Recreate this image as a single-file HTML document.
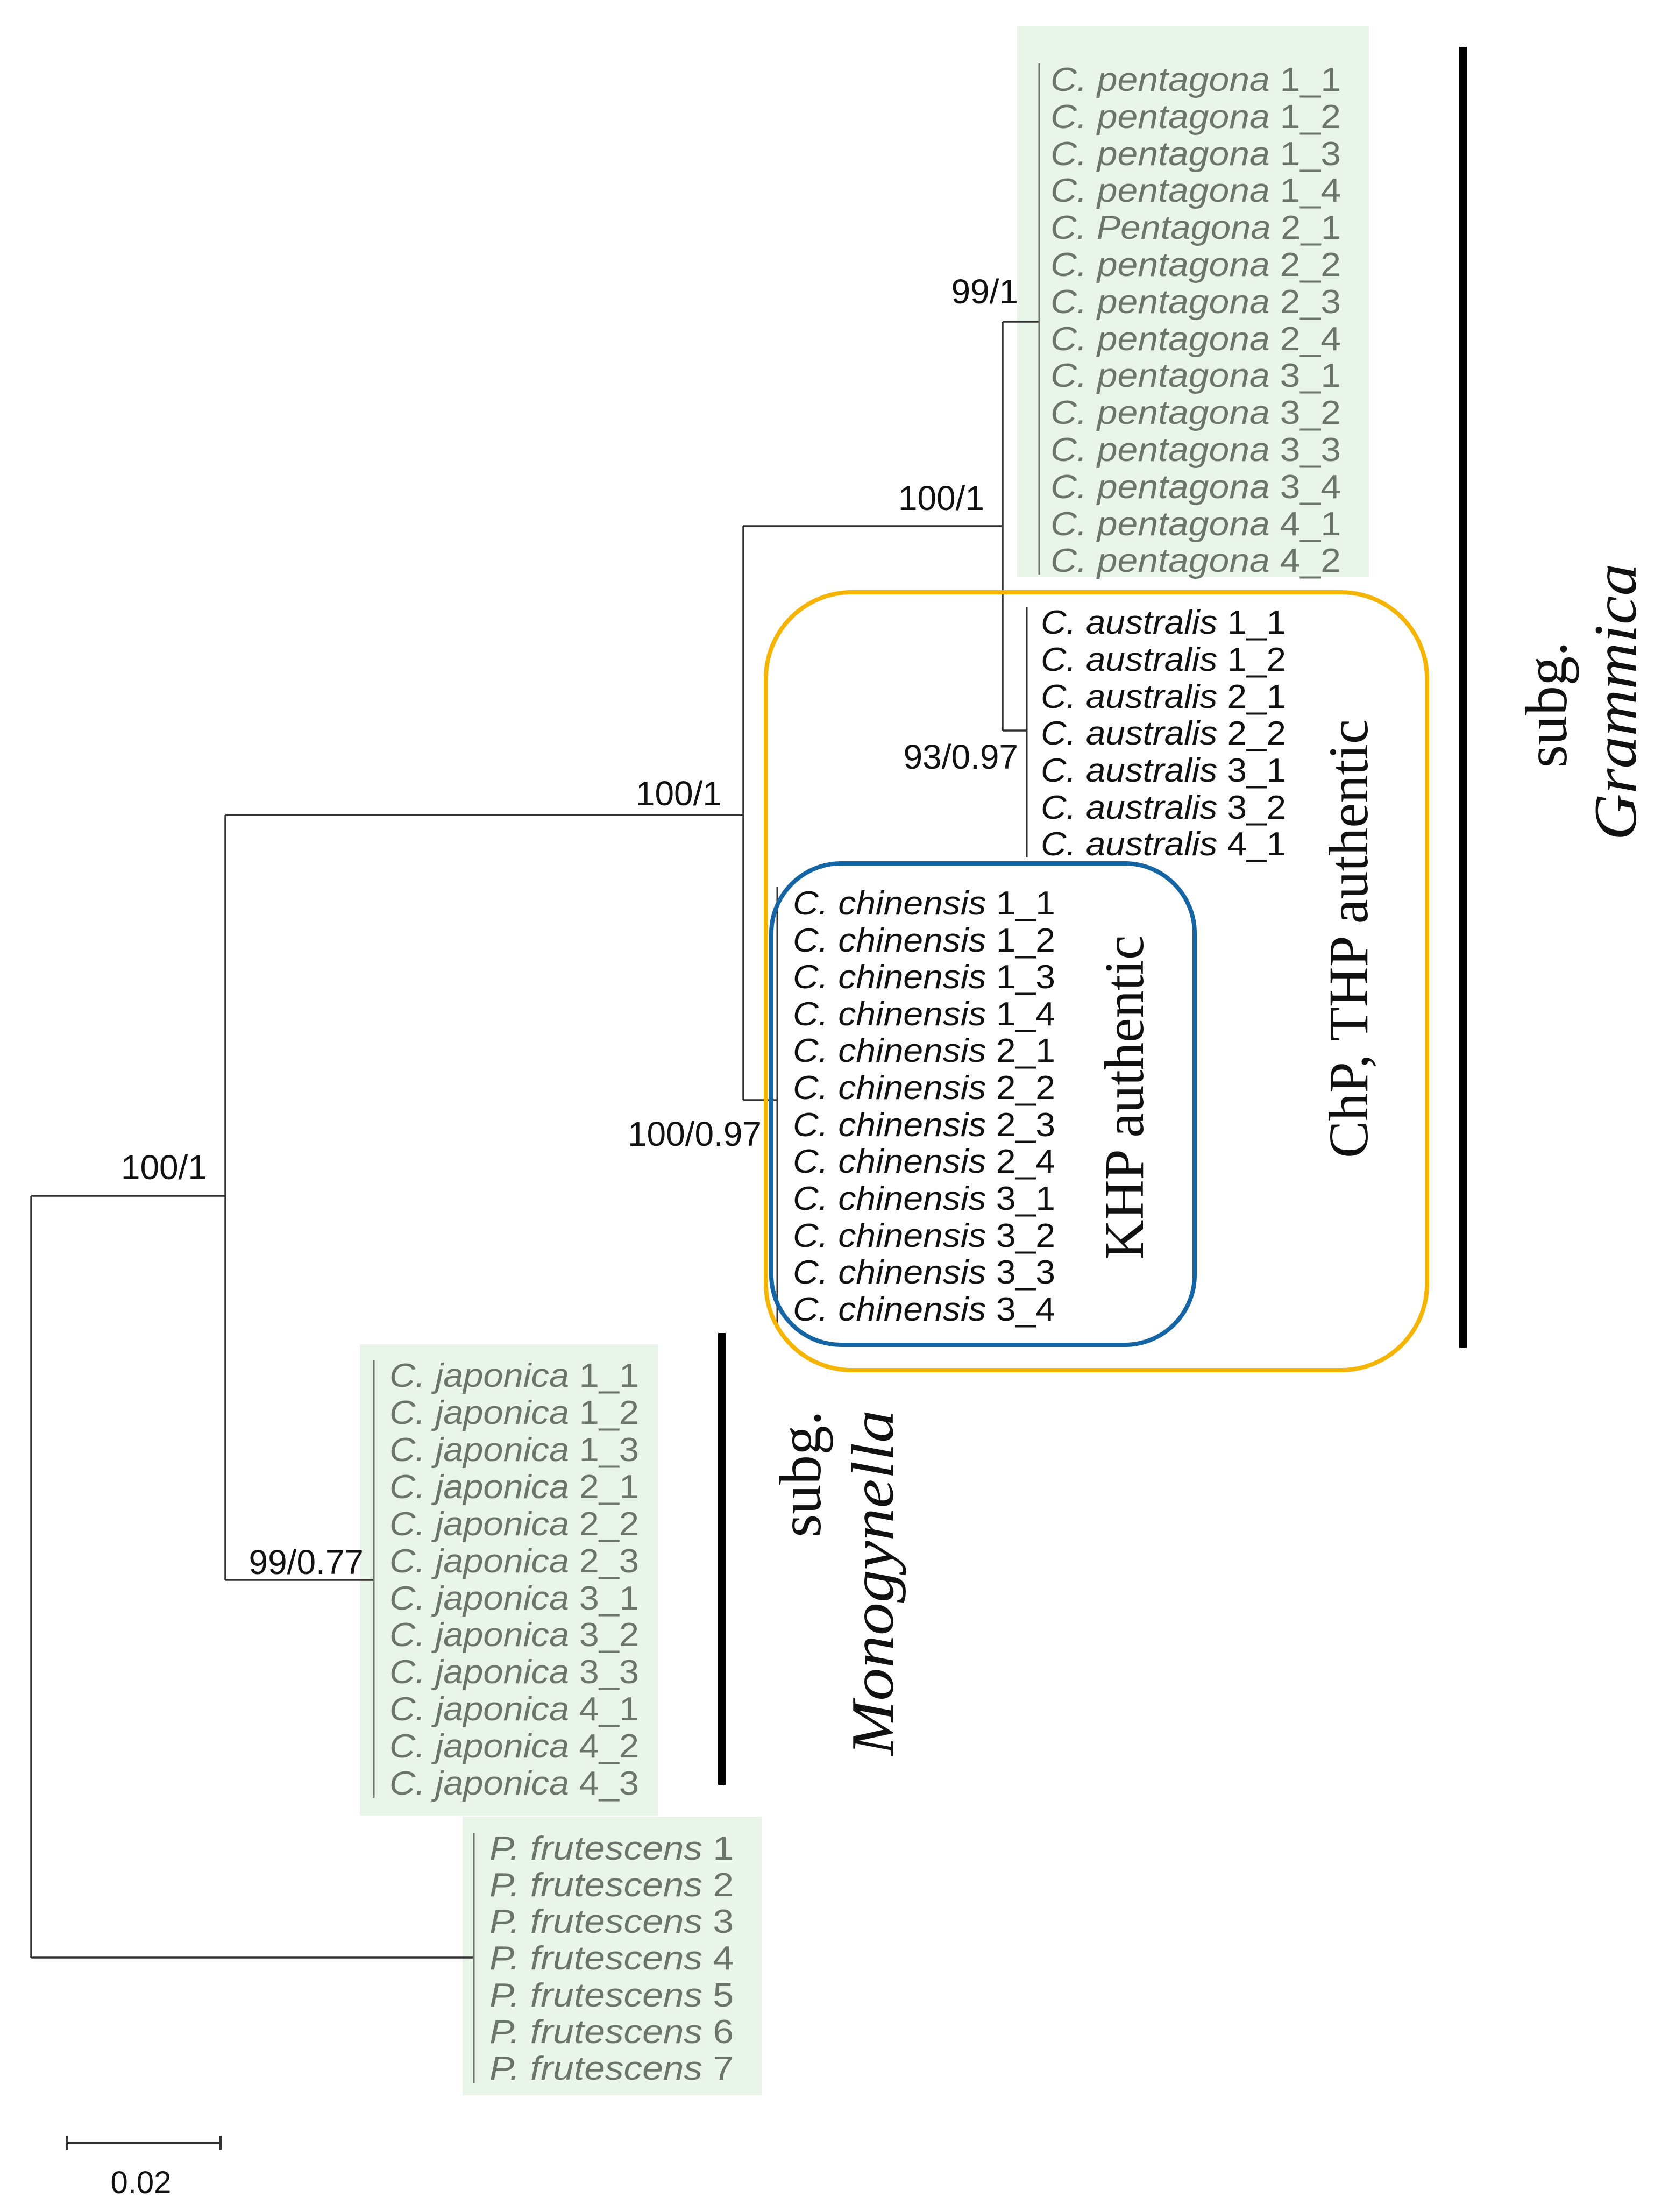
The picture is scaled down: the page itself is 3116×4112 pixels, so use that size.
<!DOCTYPE html>
<html><head><meta charset="utf-8"><style>html,body{margin:0;padding:0;background:#fff}svg{display:block}</style></head>
<body>
<svg xmlns="http://www.w3.org/2000/svg" width="3116" height="4112" viewBox="0 0 3116 4112">
<rect width="3116" height="4112" fill="#fff"/>
<rect x="1891" y="48" width="654" height="1024" fill="#eaf5ea"/>
<rect x="669" y="2499" width="555" height="876" fill="#eaf5ea"/>
<rect x="860" y="3377" width="556" height="518" fill="#eaf5ea"/>
<g stroke="#333" stroke-width="3.5" fill="none">
<path d="M58 2223 V3639 M58 2223 H419 M58 3639 H881"/>
<path d="M419 1515 V2937 M419 2937 H695 M419 1515 H1382"/>
<path d="M1382 978 V2045 M1382 2045 H1445 M1382 978 H1864"/>
<path d="M1864 598 V1358 M1864 598 H1932 M1864 1358 H1909"/>
</g>
<g stroke="#6b756b" stroke-width="3" fill="none">
<path d="M1932 118 V1068 M695 2528 V3342 M881 3408 V3872"/>
</g>
<g stroke="#333" stroke-width="3" fill="none">
<path d="M1909 1128 V1594 M1445 1648 V2462"/>
</g>
<rect x="1424" y="1101" width="1229" height="1446" rx="160" fill="none" stroke="#f5b400" stroke-width="8"/>
<rect x="1434" y="1605" width="787" height="895" rx="130" fill="none" stroke="#1565a5" stroke-width="8"/>
<rect x="2713" y="87" width="14" height="2418" fill="#000"/>
<rect x="1335" y="2478" width="14" height="840" fill="#000"/>
<g font-family="Liberation Sans, sans-serif" font-size="62" fill="#6b756b">
<text x="1953" y="169" textLength="540" lengthAdjust="spacingAndGlyphs"><tspan font-style="italic">C. pentagona</tspan> 1_1</text>
<text x="1953" y="238" textLength="540" lengthAdjust="spacingAndGlyphs"><tspan font-style="italic">C. pentagona</tspan> 1_2</text>
<text x="1953" y="307" textLength="540" lengthAdjust="spacingAndGlyphs"><tspan font-style="italic">C. pentagona</tspan> 1_3</text>
<text x="1953" y="375" textLength="540" lengthAdjust="spacingAndGlyphs"><tspan font-style="italic">C. pentagona</tspan> 1_4</text>
<text x="1953" y="444" textLength="540" lengthAdjust="spacingAndGlyphs"><tspan font-style="italic">C. Pentagona</tspan> 2_1</text>
<text x="1953" y="513" textLength="540" lengthAdjust="spacingAndGlyphs"><tspan font-style="italic">C. pentagona</tspan> 2_2</text>
<text x="1953" y="582" textLength="540" lengthAdjust="spacingAndGlyphs"><tspan font-style="italic">C. pentagona</tspan> 2_3</text>
<text x="1953" y="651" textLength="540" lengthAdjust="spacingAndGlyphs"><tspan font-style="italic">C. pentagona</tspan> 2_4</text>
<text x="1953" y="719" textLength="540" lengthAdjust="spacingAndGlyphs"><tspan font-style="italic">C. pentagona</tspan> 3_1</text>
<text x="1953" y="788" textLength="540" lengthAdjust="spacingAndGlyphs"><tspan font-style="italic">C. pentagona</tspan> 3_2</text>
<text x="1953" y="857" textLength="540" lengthAdjust="spacingAndGlyphs"><tspan font-style="italic">C. pentagona</tspan> 3_3</text>
<text x="1953" y="926" textLength="540" lengthAdjust="spacingAndGlyphs"><tspan font-style="italic">C. pentagona</tspan> 3_4</text>
<text x="1953" y="995" textLength="540" lengthAdjust="spacingAndGlyphs"><tspan font-style="italic">C. pentagona</tspan> 4_1</text>
<text x="1953" y="1063" textLength="540" lengthAdjust="spacingAndGlyphs"><tspan font-style="italic">C. pentagona</tspan> 4_2</text>
<text x="724" y="2578" textLength="464" lengthAdjust="spacingAndGlyphs"><tspan font-style="italic">C. japonica</tspan> 1_1</text>
<text x="724" y="2647" textLength="464" lengthAdjust="spacingAndGlyphs"><tspan font-style="italic">C. japonica</tspan> 1_2</text>
<text x="724" y="2716" textLength="464" lengthAdjust="spacingAndGlyphs"><tspan font-style="italic">C. japonica</tspan> 1_3</text>
<text x="724" y="2785" textLength="464" lengthAdjust="spacingAndGlyphs"><tspan font-style="italic">C. japonica</tspan> 2_1</text>
<text x="724" y="2854" textLength="464" lengthAdjust="spacingAndGlyphs"><tspan font-style="italic">C. japonica</tspan> 2_2</text>
<text x="724" y="2923" textLength="464" lengthAdjust="spacingAndGlyphs"><tspan font-style="italic">C. japonica</tspan> 2_3</text>
<text x="724" y="2992" textLength="464" lengthAdjust="spacingAndGlyphs"><tspan font-style="italic">C. japonica</tspan> 3_1</text>
<text x="724" y="3060" textLength="464" lengthAdjust="spacingAndGlyphs"><tspan font-style="italic">C. japonica</tspan> 3_2</text>
<text x="724" y="3129" textLength="464" lengthAdjust="spacingAndGlyphs"><tspan font-style="italic">C. japonica</tspan> 3_3</text>
<text x="724" y="3198" textLength="464" lengthAdjust="spacingAndGlyphs"><tspan font-style="italic">C. japonica</tspan> 4_1</text>
<text x="724" y="3267" textLength="464" lengthAdjust="spacingAndGlyphs"><tspan font-style="italic">C. japonica</tspan> 4_2</text>
<text x="724" y="3336" textLength="464" lengthAdjust="spacingAndGlyphs"><tspan font-style="italic">C. japonica</tspan> 4_3</text>
<text x="910" y="3457" textLength="454" lengthAdjust="spacingAndGlyphs"><tspan font-style="italic">P. frutescens</tspan> 1</text>
<text x="910" y="3525" textLength="454" lengthAdjust="spacingAndGlyphs"><tspan font-style="italic">P. frutescens</tspan> 2</text>
<text x="910" y="3593" textLength="454" lengthAdjust="spacingAndGlyphs"><tspan font-style="italic">P. frutescens</tspan> 3</text>
<text x="910" y="3661" textLength="454" lengthAdjust="spacingAndGlyphs"><tspan font-style="italic">P. frutescens</tspan> 4</text>
<text x="910" y="3730" textLength="454" lengthAdjust="spacingAndGlyphs"><tspan font-style="italic">P. frutescens</tspan> 5</text>
<text x="910" y="3798" textLength="454" lengthAdjust="spacingAndGlyphs"><tspan font-style="italic">P. frutescens</tspan> 6</text>
<text x="910" y="3866" textLength="454" lengthAdjust="spacingAndGlyphs"><tspan font-style="italic">P. frutescens</tspan> 7</text>
</g>
<g font-family="Liberation Sans, sans-serif" font-size="62" fill="#111">
<text x="1935" y="1178" textLength="456" lengthAdjust="spacingAndGlyphs"><tspan font-style="italic">C. australis</tspan> 1_1</text>
<text x="1935" y="1247" textLength="456" lengthAdjust="spacingAndGlyphs"><tspan font-style="italic">C. australis</tspan> 1_2</text>
<text x="1935" y="1316" textLength="456" lengthAdjust="spacingAndGlyphs"><tspan font-style="italic">C. australis</tspan> 2_1</text>
<text x="1935" y="1384" textLength="456" lengthAdjust="spacingAndGlyphs"><tspan font-style="italic">C. australis</tspan> 2_2</text>
<text x="1935" y="1453" textLength="456" lengthAdjust="spacingAndGlyphs"><tspan font-style="italic">C. australis</tspan> 3_1</text>
<text x="1935" y="1522" textLength="456" lengthAdjust="spacingAndGlyphs"><tspan font-style="italic">C. australis</tspan> 3_2</text>
<text x="1935" y="1590" textLength="456" lengthAdjust="spacingAndGlyphs"><tspan font-style="italic">C. australis</tspan> 4_1</text>
<text x="1474" y="1700" textLength="488" lengthAdjust="spacingAndGlyphs"><tspan font-style="italic">C. chinensis</tspan> 1_1</text>
<text x="1474" y="1769" textLength="488" lengthAdjust="spacingAndGlyphs"><tspan font-style="italic">C. chinensis</tspan> 1_2</text>
<text x="1474" y="1837" textLength="488" lengthAdjust="spacingAndGlyphs"><tspan font-style="italic">C. chinensis</tspan> 1_3</text>
<text x="1474" y="1906" textLength="488" lengthAdjust="spacingAndGlyphs"><tspan font-style="italic">C. chinensis</tspan> 1_4</text>
<text x="1474" y="1974" textLength="488" lengthAdjust="spacingAndGlyphs"><tspan font-style="italic">C. chinensis</tspan> 2_1</text>
<text x="1474" y="2043" textLength="488" lengthAdjust="spacingAndGlyphs"><tspan font-style="italic">C. chinensis</tspan> 2_2</text>
<text x="1474" y="2112" textLength="488" lengthAdjust="spacingAndGlyphs"><tspan font-style="italic">C. chinensis</tspan> 2_3</text>
<text x="1474" y="2180" textLength="488" lengthAdjust="spacingAndGlyphs"><tspan font-style="italic">C. chinensis</tspan> 2_4</text>
<text x="1474" y="2249" textLength="488" lengthAdjust="spacingAndGlyphs"><tspan font-style="italic">C. chinensis</tspan> 3_1</text>
<text x="1474" y="2318" textLength="488" lengthAdjust="spacingAndGlyphs"><tspan font-style="italic">C. chinensis</tspan> 3_2</text>
<text x="1474" y="2386" textLength="488" lengthAdjust="spacingAndGlyphs"><tspan font-style="italic">C. chinensis</tspan> 3_3</text>
<text x="1474" y="2455" textLength="488" lengthAdjust="spacingAndGlyphs"><tspan font-style="italic">C. chinensis</tspan> 3_4</text>
</g>
<g font-family="Liberation Sans, sans-serif" font-size="64" fill="#111" text-anchor="end">
<text x="1893" y="564">99/1</text>
<text x="1830" y="948">100/1</text>
<text x="1893" y="1429">93/0.97</text>
<text x="1342" y="1497">100/1</text>
<text x="1416" y="2130">100/0.97</text>
<text x="385" y="2192">100/1</text>
<text x="676" y="2926">99/0.77</text>
</g>
<g font-family="Liberation Serif, serif" font-size="104" fill="#111" text-anchor="middle">
<text transform="translate(2125,2040) rotate(-90)" textLength="603" lengthAdjust="spacingAndGlyphs">KHP authentic</text>
<text transform="translate(2542,1745) rotate(-90)" textLength="816" lengthAdjust="spacingAndGlyphs">ChP, THP authentic</text>
<text transform="translate(2912,1310) rotate(-90)" font-size="110">subg.</text>
<text transform="translate(3041,1305) rotate(-90)" font-size="112" font-style="italic" textLength="515" lengthAdjust="spacingAndGlyphs">Grammica</text>
<text transform="translate(1525,2740) rotate(-90)" font-size="110">subg.</text>
<text transform="translate(1660,2942) rotate(-90)" font-size="112" font-style="italic" textLength="642" lengthAdjust="spacingAndGlyphs">Monogynella</text>
</g>
<g stroke="#333" stroke-width="4" fill="none">
<path d="M124 3983 H410 M124 3970 V3996 M410 3970 V3996"/>
</g>
<text x="262" y="4077" font-family="Liberation Sans, sans-serif" font-size="58" fill="#111" text-anchor="middle">0.02</text>
</svg>
</body></html>
